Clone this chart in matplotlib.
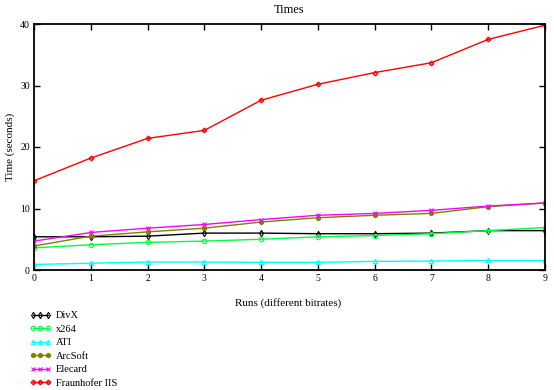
import matplotlib
matplotlib.use("Agg")
import matplotlib.pyplot as plt

runs = list(range(10))
divx = [5.4, 5.4, 5.5, 6.0, 6.0, 5.9, 5.9, 6.0, 6.4, 6.4]
x264 = [3.6, 4.1, 4.5, 4.7, 5.0, 5.4, 5.6, 5.9, 6.4, 6.9]
ati = [0.9, 1.1, 1.3, 1.3, 1.25, 1.25, 1.4, 1.45, 1.55, 1.55]
arcsoft = [3.9, 5.5, 6.2, 6.8, 7.8, 8.5, 8.9, 9.2, 10.3, 10.9]
elecard = [4.7, 6.1, 6.8, 7.4, 8.2, 8.9, 9.2, 9.7, 10.4, 10.9]
fraunhofer = [14.5, 18.2, 21.4, 22.7, 27.6, 30.2, 32.1, 33.7, 37.5, 39.8]

labels = ["DivX", "x264", "ATI", "ArcSoft", "Elecard", "Fraunhofer IIS"]
colors = ["#000000", "#00ff40", "#00ffff", "#808000", "#ff00ff", "#ff0000"]
markers = ["d", "o", "^", "h", "x", "P"]
fills = ["none", "none", "none", "full", "full", "none"]
series = [divx, x264, ati, arcsoft, elecard, fraunhofer]

plt.rcParams['font.family'] = ['Liberation Serif', 'DejaVu Serif']

fig = plt.figure(figsize=(5.54, 3.9), dpi=100)
ax = fig.add_axes([34/554, 1 - 270/390, (545-34)/554, (270-24)/390])

for vals, lab, c, m, f in zip(series, labels, colors, markers, fills):
    ax.plot(runs, vals, color=c, lw=1.0, marker=m, markersize=3.2,
            markerfacecolor=(c if f == "full" else "none"), markeredgecolor=c,
            markeredgewidth=0.8, label=lab)

ax.set_xlim(0, 9)
ax.set_ylim(0, 40)
ax.set_xticks(range(10))
ax.set_yticks([0, 10, 20, 30, 40])
ax.tick_params(direction='in', top=True, right=True, labelsize=7, length=4, width=1, pad=3)
for s in ax.spines.values():
    s.set_linewidth(1.3)

ax.set_title("Times", fontsize=9, pad=8)
ax.set_xlabel("Runs (different bitrates)", fontsize=8)
ax.xaxis.set_label_coords((288-34)/511, -(298-270)/246)
ax.set_ylabel("Time (seconds)", fontsize=8)
ax.yaxis.set_label_coords(-(34-15)/511, 0.5)

handles, labs = ax.get_legend_handles_labels()
fig.legend(handles, labs, loc='upper left', bbox_to_anchor=(28/554, 1 - 309/390),
           frameon=False, fontsize=7.5, numpoints=3, handlelength=2.0,
           labelspacing=0.4, handletextpad=0.5, borderpad=0.2, borderaxespad=0)

fig.savefig("out.png", dpi=100)
